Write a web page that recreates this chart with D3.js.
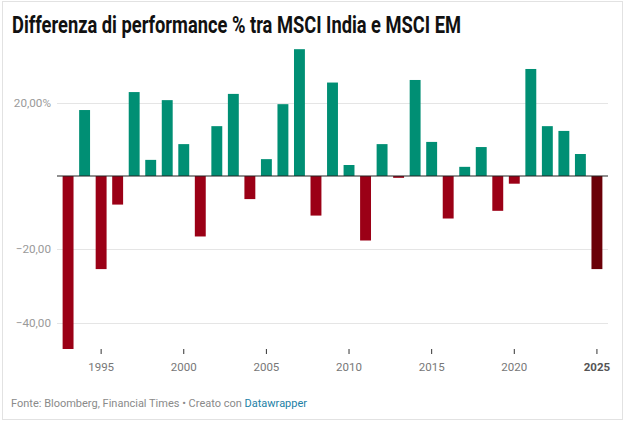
<!DOCTYPE html>
<html>
<head>
<meta charset="utf-8">
<script src="https://cdn.jsdelivr.net/npm/d3@7"></script>
<style>
  body { margin: 0; background: #fff; }
  text { font-family: Roboto, "DejaVu Sans", sans-serif; }
</style>
</head>
<body>
<div id="chart"></div>
<script>
var years = d3.range(1993, 2026);
var diff = [
  -47.2, 18.0, -25.4, -7.8, 22.9, 4.4, 20.7, 8.7, -16.5, 13.6,
  22.4, -6.3, 4.6, 19.6, 34.6, -10.8, 25.5, 3.0, -17.6, 8.7,
  -0.5, 26.2, 9.3, -11.6, 2.5, 7.9, -9.5, -2.1, 29.2, 13.6,
  12.3, 6.0, -25.4
];
var yTicks = [20, -20, -40];
var yTickLabels = ["20,00%", "\u221220,00", "\u221240,00"];
var xTicks = [1995, 2000, 2005, 2010, 2015, 2020, 2025];

var width = 626, height = 424;

var svg = d3.select("#chart").append("svg")
    .attr("width", width)
    .attr("height", height);

svg.append("rect")
    .attr("x", 2.5).attr("y", 1.5)
    .attr("width", 620).attr("height", 418)
    .attr("fill", "#fff")
    .attr("stroke", "#e2e2e2");

svg.append("text")
    .attr("x", 12).attr("y", 33)
    .attr("font-size", 23)
    .attr("font-weight", 700)
    .attr("fill", "#111")
    .attr("textLength", 449)
    .attr("lengthAdjust", "spacingAndGlyphs")
    .text("Differenza di performance % tra MSCI India e MSCI EM");

var x = d3.scaleBand()
    .domain(years)
    .range([57, 608])
    .padding(0.34);

var y = d3.scaleLinear()
    .domain([-20, 20])
    .range([249.3, 102.7]);

// grid
svg.selectAll(".grid").data(yTicks).enter().append("line")
    .attr("class", "grid")
    .attr("x1", 57).attr("x2", 608)
    .attr("y1", function(d) { return Math.round(y(d)) + 0.5; })
    .attr("y2", function(d) { return Math.round(y(d)) + 0.5; })
    .attr("stroke", "#e5e5e5");

svg.selectAll(".ylab").data(yTicks).enter().append("text")
    .attr("class", "ylab")
    .attr("x", 51)
    .attr("y", function(d) { return y(d) + 4; })
    .attr("text-anchor", "end")
    .attr("font-size", 11.7)
    .attr("fill", "#9a9a9a")
    .text(function(d, i) { return yTickLabels[i]; });

// bars
svg.selectAll(".bar").data(years).enter().append("rect")
    .attr("class", "bar")
    .attr("x", function(d) { return x(d); })
    .attr("width", x.bandwidth())
    .attr("y", function(d, i) { return y(Math.max(0, diff[i])); })
    .attr("height", function(d, i) { return Math.abs(y(diff[i]) - y(0)); })
    .attr("fill", function(d, i) {
      if (d === 2025) return "#6b0008";
      return diff[i] >= 0 ? "#008f74" : "#9b0016";
    });

svg.append("line")
    .attr("x1", 57).attr("x2", 608)
    .attr("y1", y(0)).attr("y2", y(0))
    .attr("stroke", "#222")
    .attr("stroke-width", 1.2);

// x axis
var xt = svg.selectAll(".xt").data(xTicks).enter().append("g")
    .attr("transform", function(d) { return "translate(" + (x(d) + x.bandwidth() / 2) + ",0)"; });
xt.append("line")
    .attr("y1", 349).attr("y2", 354)
    .attr("stroke", "#333");
xt.append("text")
    .attr("y", 371)
    .attr("text-anchor", "middle")
    .attr("font-size", 11.5)
    .attr("font-weight", function(d) { return d === 2025 ? 700 : 400; })
    .attr("fill", function(d) { return d === 2025 ? "#555" : "#777"; })
    .text(function(d) { return d; });

// footer
var foot = svg.append("text")
    .attr("x", 11).attr("y", 407)
    .attr("font-size", 11)
    .attr("fill", "#8a8a8a");
foot.append("tspan").text("Fonte: Bloomberg, Financial Times \u2022 Creato con ");
foot.append("tspan").attr("fill", "#1c7fa6").text("Datawrapper");
</script>
</body>
</html>
